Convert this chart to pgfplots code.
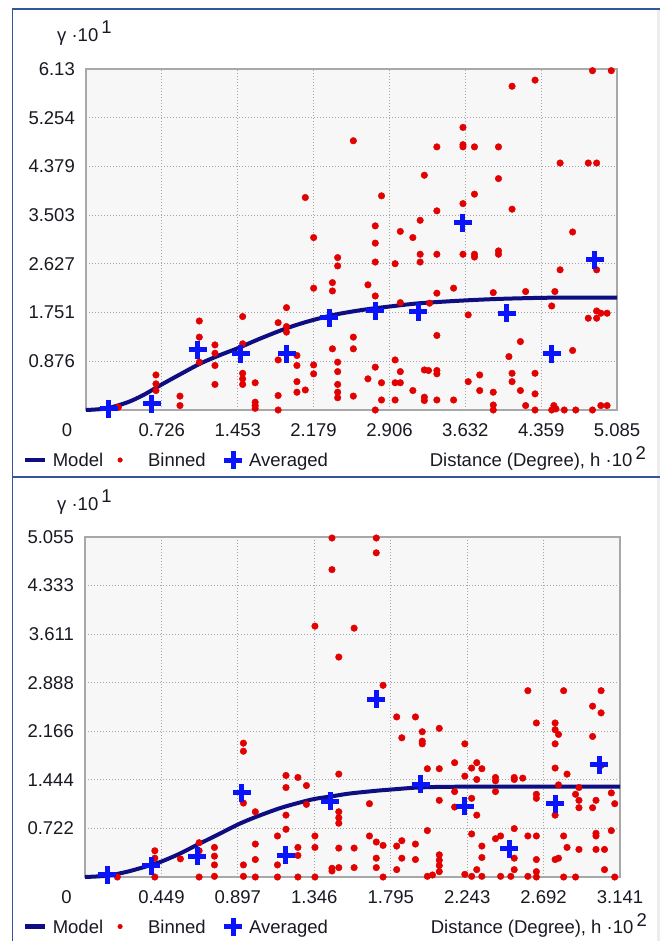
\documentclass[border=0pt]{standalone}
\usepackage{fontspec}
\setmainfont{Liberation Sans}
\usepackage{pgfplots}
\pgfplotsset{compat=1.18}
\definecolor{panelblue}{RGB}{52,84,160}
\definecolor{framegray}{RGB}{168,168,168}
\definecolor{gridgray}{RGB}{165,165,165}
\definecolor{plotbg}{RGB}{247,247,247}
\definecolor{modelnavy}{RGB}{14,14,130}
\definecolor{binred}{RGB}{226,0,0}
\definecolor{avgblue}{RGB}{10,20,250}
\definecolor{txt}{RGB}{25,25,35}
\newcommand{\fs}{\fontsize{18.5}{22}\selectfont}
\pgfplotsset{
  vario/.style={
    scale only axis, clip=false,
    axis background/.style={fill=plotbg},
    axis line style={draw=framegray, line width=1.4pt},
    grid=major,
    grid style={draw=gridgray, line width=0.9pt, dash pattern=on 1pt off 2pt},
    major tick length=0pt,
    /pgf/number format/assume math mode=true,
    tick label style={font=\fs, text=txt},
    xticklabel style={anchor=center, yshift=-20pt},
    yticklabel style={anchor=east, inner sep=0pt, xshift=-11pt},
    legend columns=-1,
    legend style={anchor=north west, draw=none, fill=none, inner sep=0pt, outer sep=0pt,
      font=\fs, text=txt, /tikz/column sep=0pt, nodes={inner sep=0pt}, cells={anchor=base west}},
  },
  modelstyle/.style={color=modelnavy, line width=4pt, no marks, smooth},
  binstyle/.style={only marks, mark=*, mark size=3.3pt, color=binred, mark options={draw=none, fill=binred}},
  avgstyle/.style={only marks, mark=+, mark size=9pt, color=avgblue, mark options={line width=5pt}},
  varlegend/.style={
    legend image code/.code={\path[draw=none,fill=none] (0pt,-10pt) rectangle (27.7pt,25pt); \draw[line width=4.2pt] (0pt,6.5pt) -- (20pt,6.5pt);}
  },
}
\begin{document}
\begin{tikzpicture}
\path[use as bounding box] (0pt,0pt) rectangle (660pt,-941pt);
\fill[white] (0pt,0pt) rectangle (660pt,-941pt);
\fill[black!7] (656.5pt,-10pt) rectangle (660pt,-941pt);
\draw[panelblue, line width=1.6pt] (12.3pt,-941pt) -- (12.3pt,-9pt) -- (660pt,-9pt);
\draw[panelblue, line width=1.6pt] (12.3pt,-477pt) -- (660pt,-477pt);

% ---------------- top panel ----------------
\begin{axis}[vario, at={(86pt,-410pt)}, anchor=south west, width=531pt, height=341pt,
  xmin=0, xmax=5.085, ymin=0, ymax=6.13,
  xtick={0.7264,1.4529,2.1793,2.9057,3.6321,4.3586,5.085},
  xticklabels={0.726,1.453,2.179,2.906,3.632,4.359,5.085},
  ytick={0.8757,1.7514,2.6271,3.5029,4.3786,5.2543,6.13},
  yticklabels={0.876,1.751,2.627,3.503,4.379,5.254,6.13},
  legend style={at={(-0.11864,-0.09238)}}]
\addlegendimage{color=modelnavy, line width=4pt, varlegend}
\addlegendentry{Model}
\addlegendimage{binstyle, mark size=2.3pt, legend image code/.code={\path[draw=none,fill=none] (0pt,-10pt) rectangle (44.9pt,25pt); \draw[/tikz/only marks] plot coordinates {(16.9pt,6.5pt)};}}
\addlegendentry{Binned}
\addlegendimage{avgstyle, legend image code/.code={\path[draw=none,fill=none] (0pt,-10pt) rectangle (43.4pt,25pt); \draw[/tikz/only marks] plot coordinates {(27.4pt,6.5pt)};}}
\addlegendentry{Averaged}

\addplot[binstyle, forget plot] table {
x y
0.31 0.05
0.67 0.63
0.67 0.47
0.67 0.35
0.90 0.25
0.90 0.08
1.085 1.60
1.085 1.31
1.085 0.86
1.235 1.17
1.235 1.02
1.235 0.80
1.235 0.46
1.50 1.68
1.50 1.19
1.50 0.66
1.50 0.56
1.50 0.46
1.62 0.49
1.62 0.14
1.62 0.08
1.62 0.03
1.84 1.57
1.84 0.90
1.84 0.26
1.84 0.00
1.92 1.84
1.92 1.50
1.92 1.40
2.02 0.98
2.02 0.80
2.02 0.51
2.02 0.32
2.10 0.36
2.10 3.82
2.18 3.10
2.18 2.19
2.18 0.81
2.18 0.65
2.36 2.29
2.36 2.14
2.36 1.10
2.41 2.74
2.41 2.59
2.41 0.86
2.41 0.69
2.41 0.46
2.41 0.32
2.41 0.22
2.56 4.84
2.56 1.31
2.56 1.10
2.56 0.25
2.70 2.25
2.77 3.31
2.77 3.00
2.77 2.66
2.77 2.05
2.77 0.77
2.70 0.56
2.83 3.85
2.83 0.49
2.83 0.18
2.77 0.00
2.96 2.63
2.96 0.90
2.96 0.49
2.96 0.18
3.01 3.21
3.01 1.93
3.01 0.69
3.01 0.49
3.13 3.10
3.13 0.35
3.20 3.41
3.20 2.80
3.20 2.66
3.24 4.22
3.24 0.72
3.28 0.71
3.24 0.23
3.24 0.17
3.29 1.92
3.36 4.73
3.36 3.58
3.36 2.80
3.36 2.10
3.36 1.34
3.36 0.71
3.36 0.65
3.36 0.18
3.52 2.19
3.52 0.18
3.61 5.08
3.61 4.77
3.61 4.73
3.61 3.71
3.61 2.80
3.72 4.73
3.72 3.88
3.72 2.80
3.72 2.75
3.66 1.71
3.66 0.51
3.77 0.63
3.77 0.35
3.90 2.11
3.90 0.32
3.90 0.09
3.90 0.00
3.95 4.73
3.95 4.16
3.95 2.86
3.95 2.80
4.05 0.96
4.08 3.61
4.08 0.66
4.08 0.51
4.08 5.82
4.16 1.23
4.16 0.35
4.21 2.13
4.21 0.08
4.30 5.93
4.30 0.66
4.30 0.29
4.30 0.00
4.46 1.87
4.49 2.13
4.46 0.00
4.48 0.08
4.50 0.02
4.54 4.44
4.54 2.52
4.58 0.00
4.66 3.20
4.66 1.07
4.69 0.00
4.81 4.44
4.89 4.44
4.85 6.10
5.03 6.10
4.81 1.65
4.89 2.52
4.89 1.78
4.89 1.65
4.93 1.74
4.99 1.74
4.85 0.00
4.93 0.08
4.99 0.08
};
\addplot[modelstyle, forget plot] table {
x y
0 0
0.2 0.03
0.4 0.14
0.55 0.27
0.726 0.46
0.9 0.64
1.1 0.84
1.3 1.00
1.453 1.11
1.65 1.27
1.85 1.42
2.0 1.52
2.179 1.62
2.4 1.72
2.65 1.80
2.906 1.86
3.2 1.92
3.632 1.97
4.0 2.00
4.5 2.02
5.085 2.02
};
\addplot[avgstyle, forget plot] table {
x y
0.22 0.02
0.63 0.11
1.07 1.08
1.48 1.01
1.92 1.01
2.33 1.66
2.77 1.78
3.18 1.77
3.61 3.37
4.03 1.74
4.46 1.01
4.87 2.70
};
\end{axis}

% ---------------- bottom panel ----------------
\begin{axis}[vario, at={(85pt,-877pt)}, anchor=south west, width=535pt, height=340pt,
  xmin=0, xmax=3.141, ymin=0, ymax=5.055,
  xtick={0.4487,0.8974,1.3461,1.7949,2.2436,2.6923,3.141},
  xticklabels={0.449,0.897,1.346,1.795,2.243,2.692,3.141},
  ytick={0.7221,1.4443,2.1664,2.8886,3.6107,4.3329,5.055},
  yticklabels={0.722,1.444,2.166,2.888,3.611,4.333,5.055},
  legend style={at={(-0.11589,-0.09118)}}]
\addlegendimage{color=modelnavy, line width=4pt, varlegend}
\addlegendentry{Model}
\addlegendimage{binstyle, mark size=2.3pt, legend image code/.code={\path[draw=none,fill=none] (0pt,-10pt) rectangle (44.9pt,25pt); \draw[/tikz/only marks] plot coordinates {(16.9pt,6.5pt)};}}
\addlegendentry{Binned}
\addlegendimage{avgstyle, legend image code/.code={\path[draw=none,fill=none] (0pt,-10pt) rectangle (43.4pt,25pt); \draw[/tikz/only marks] plot coordinates {(27.4pt,6.5pt)};}}
\addlegendentry{Averaged}

\addplot[binstyle, forget plot] table {
x y
0.19 0.00
0.41 0.39
0.41 0.28
0.41 0.00
0.56 0.27
0.67 0.51
0.67 0.39
0.67 0.00
0.76 0.44
0.76 0.31
0.76 0.18
0.76 0.01
0.93 1.99
0.93 1.87
0.93 1.10
0.93 0.18
0.93 0.01
1.00 0.97
1.00 0.49
1.00 0.26
1.00 0.00
1.13 0.61
1.13 0.18
1.13 0.00
1.18 1.51
1.18 1.33
1.18 0.92
1.18 0.71
1.25 1.48
1.25 0.44
1.25 0.32
1.25 0.00
1.30 1.36
1.30 1.08
1.35 0.61
1.35 0.44
1.35 0.00
1.35 3.73
1.45 5.04
1.45 4.57
1.49 3.27
1.49 1.53
1.49 0.97
1.49 0.88
1.49 0.80
1.49 0.43
1.49 0.14
1.45 0.13
1.45 0.09
1.71 5.04
1.71 4.82
1.58 3.70
1.75 2.85
1.67 1.09
1.58 0.43
1.58 0.14
1.67 0.61
1.71 0.52
1.75 0.47
1.71 0.28
1.71 0.14
1.75 0.00
1.83 2.38
1.83 0.46
1.83 0.11
1.86 2.07
1.86 0.54
1.86 0.28
1.94 2.38
1.94 0.49
1.94 0.26
1.98 2.16
1.98 2.02
1.98 1.98
2.01 1.61
2.01 0.69
2.01 0.01
2.04 0.03
2.08 2.21
2.08 1.61
2.08 1.14
2.08 0.33
2.08 0.25
2.08 0.17
2.08 0.08
2.17 1.70
2.17 1.27
2.17 1.04
2.23 1.98
2.23 1.50
2.27 1.62
2.30 1.70
2.33 1.61
2.30 1.45
2.27 1.17
2.30 0.92
2.27 0.64
2.33 0.46
2.33 0.29
2.23 0.04
2.27 0.01
2.30 0.11
2.33 0.01
2.41 1.48
2.41 1.43
2.41 1.27
2.41 0.57
2.44 0.61
2.44 0.01
2.52 1.48
2.52 1.45
2.57 1.47
2.52 0.72
2.52 0.28
2.52 0.11
2.50 0.01
2.60 2.77
2.65 2.29
2.65 1.23
2.65 1.17
2.60 0.61
2.65 0.61
2.65 0.26
2.65 0.08
2.65 0.00
2.60 0.01
2.76 2.29
2.76 2.19
2.78 2.12
2.76 1.98
2.76 1.62
2.76 0.92
2.81 2.77
2.83 1.53
2.78 1.37
2.81 0.61
2.83 0.44
2.76 0.26
2.78 0.28
2.81 0.00
2.88 0.00
2.90 1.33
2.88 1.23
2.90 1.14
2.90 1.03
2.90 0.41
2.98 2.54
3.03 2.77
3.03 2.44
2.98 2.09
3.00 1.14
2.98 1.03
3.00 0.65
3.00 0.61
3.00 0.41
3.05 0.41
3.05 0.11
3.09 1.25
3.11 1.09
3.09 0.69
3.11 0.00
3.03 1.66
};
\addplot[modelstyle, forget plot] table {
x y
0 0
0.13 0.02
0.25 0.08
0.39 0.18
0.449 0.23
0.55 0.34
0.66 0.48
0.78 0.63
0.897 0.78
1.0 0.89
1.14 1.02
1.25 1.10
1.346 1.16
1.45 1.20
1.55 1.24
1.7 1.28
1.795 1.30
1.95 1.33
2.1 1.34
2.4 1.345
3.141 1.345
};
\addplot[avgstyle, forget plot] table {
x y
0.13 0.03
0.39 0.17
0.66 0.31
0.92 1.25
1.18 0.32
1.44 1.13
1.71 2.64
1.97 1.38
2.23 1.05
2.49 0.42
2.76 1.09
3.02 1.67
};
\end{axis}

% ---------------- texts outside the axes ----------------
\node[anchor=base west, inner sep=0pt, font=\fs, text=txt] at (57pt,-41.6pt) {γ ·10\,\raisebox{8pt}{1}};
\node[anchor=base west, inner sep=0pt, font=\fs, text=txt] at (57pt,-510pt) {γ ·10\,\raisebox{8pt}{1}};
\node[anchor=base east, inner sep=0pt, font=\fs, text=txt] at (646pt,-466.5pt) {Distance (Degree), h ·10\,\raisebox{7pt}{2}};
\node[anchor=base east, inner sep=0pt, font=\fs, text=txt] at (647pt,-933pt) {Distance (Degree), h ·10\,\raisebox{7pt}{2}};
\node[inner sep=0pt, font=\fs, text=txt] at (67pt,-430pt) {0};
\node[inner sep=0pt, font=\fs, text=txt] at (66.5pt,-897pt) {0};
\end{tikzpicture}
\end{document}
